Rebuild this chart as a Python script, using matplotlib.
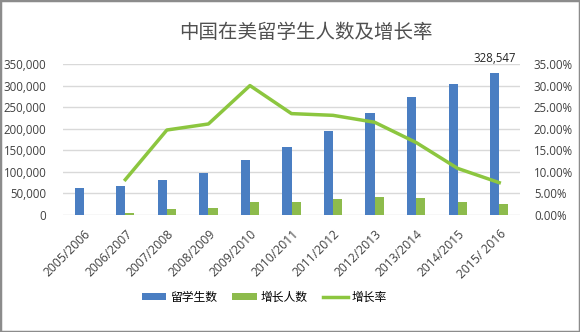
import matplotlib
matplotlib.use("Agg")
import matplotlib.pyplot as plt
from matplotlib.ticker import FuncFormatter, MultipleLocator
from matplotlib.patches import Rectangle
import numpy as np

plt.rcParams['font.family'] = ['Open Sans', 'Noto Sans CJK SC', 'DejaVu Sans']

categories = ["2005/2006", "2006/2007", "2007/2008", "2008/2009", "2009/2010",
              "2010/2011", "2011/2012", "2012/2013", "2013/2014", "2014/2015", "2015/ 2016"]
students = [62582, 67723, 81127, 98235, 127628, 157558, 194029, 235597, 274439, 304040, 328547]
increase = [np.nan, 5141, 13404, 17108, 29393, 29930, 36471, 41568, 38842, 29601, 24507]
rate = [np.nan, 8.2, 19.7, 21.1, 30.0, 23.5, 23.1, 21.5, 16.8, 10.8, 7.5]

blue = "#4A7EC2"
green = "#8DBB4C"
line_green = "#8CC63F"
tick_color = "#404040"

fig = plt.figure(figsize=(5.8, 3.32), dpi=100)
ax = fig.add_axes([63/580, 1-215/332, (520-63)/580, (215-64)/332])
ax2 = ax.twinx()

x = np.arange(len(categories))
w = 0.22
ax.bar(x - w/2, students, width=w, color=blue, zorder=3, label="留学生数")
ax.bar(x + w/2, increase, width=w, color=green, zorder=3, label="增长人数")
ax2.plot(x, rate, color=line_green, lw=2.5, zorder=4, label="增长率")

ax.set_xlim(-0.5, len(categories) - 0.5)
ax.set_ylim(0, 350000)
ax2.set_ylim(0, 35)
ax.yaxis.set_major_locator(MultipleLocator(50000))
ax2.yaxis.set_major_locator(MultipleLocator(5))
ax.yaxis.set_major_formatter(FuncFormatter(lambda v, p: f"{int(v):,}"))
ax2.yaxis.set_major_formatter(FuncFormatter(lambda v, p: f"{v:.2f}%"))

ax.grid(axis='y', color="#D9D9D9", lw=1, zorder=0)
ax.set_axisbelow(True)
for a in (ax, ax2):
    for s in a.spines.values():
        s.set_visible(False)
    a.tick_params(length=0, labelsize=8.3, colors=tick_color)
ax.tick_params(axis='y', pad=12)
ax2.tick_params(axis='y', pad=10)

ax.set_xticks(x)
ax.set_xticklabels(categories, rotation=45, ha='right', rotation_mode='anchor', fontsize=8.7)
ax.tick_params(axis='x', pad=9)

ax.annotate(f"{students[-1]:,}", xy=(x[-1] - w/2, students[-1]), xytext=(0, 6),
            textcoords='offset points', ha='center', va='bottom', fontsize=8.3, color="#262626")

fig.text(306/580, 1-33/332, "中国在美留学生人数及增长率", ha='center', va='center',
         fontsize=14, color="#505050", weight='light',
         family=['Noto Sans CJK SC', 'DejaVu Sans'])

h1, l1 = ax.get_legend_handles_labels()
h2, l2 = ax2.get_legend_handles_labels()
fig.legend(h1 + h2, l1 + l2, loc='center', bbox_to_anchor=(264/580, 1-297/332), ncol=3,
           frameon=False, handlelength=2.1, handleheight=0.55, handletextpad=0.3,
           columnspacing=1.3,
           prop={'family': ['Noto Sans CJK SC', 'DejaVu Sans'], 'size': 8.5})

fig.patches.append(Rectangle((0, 0), 1, 1, transform=fig.transFigure, fill=False,
                             edgecolor="#8C8C8C", lw=2.5))

fig.savefig("out.png", dpi=100, facecolor="white")
